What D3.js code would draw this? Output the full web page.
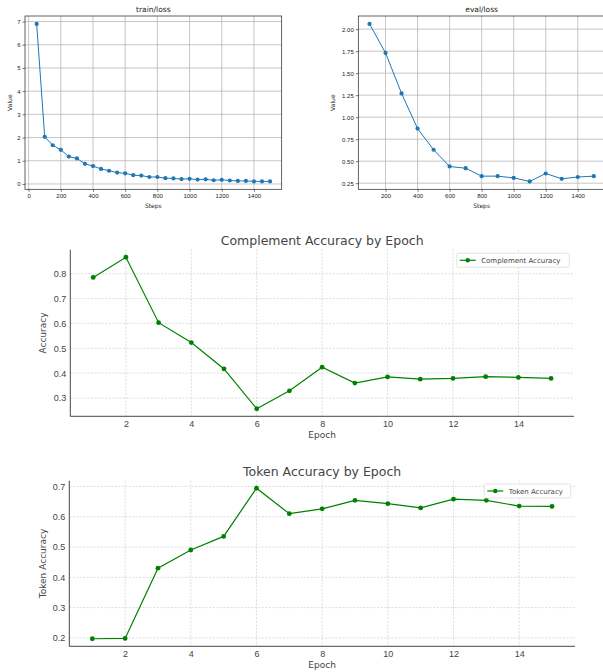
<!DOCTYPE html>
<html>
<head>
<meta charset="UTF-8">
<script src="https://cdnjs.cloudflare.com/ajax/libs/d3/7.8.5/d3.min.js"></script>
<title>training curves</title>
<style>
  body { margin: 0; background: #fff; }
  svg { display: block; font-family: "DejaVu Sans", sans-serif; }
</style>
</head>
<body>
<div id="chart"></div>
<script>
// train/loss
const trainSteps = [50, 100, 150, 200, 250, 300, 350, 400, 450, 500, 550, 600, 650, 700, 750,
  800, 850, 900, 950, 1000, 1050, 1100, 1150, 1200, 1250, 1300, 1350, 1400, 1450, 1500]
const trainLoss = [6.9, 2.03, 1.67, 1.47, 1.18, 1.1, 0.87, 0.77, 0.65, 0.57, 0.49, 0.46, 0.38, 0.36, 0.3,
  0.3, 0.25, 0.24, 0.21, 0.22, 0.19, 0.2, 0.16, 0.18, 0.15, 0.13, 0.13, 0.11, 0.11, 0.11]
const trainXTicks = [0, 200, 400, 600, 800, 1000, 1200, 1400]
const trainYTicks = [0, 1, 2, 3, 4, 5, 6, 7]

// eval/loss
const evalSteps = [100, 200, 300, 400, 500, 600, 700, 800, 900, 1000, 1100, 1200, 1300, 1400, 1500]
const evalLoss = [2.06, 1.73, 1.27, 0.87, 0.63, 0.44, 0.42, 0.33, 0.33, 0.31, 0.27, 0.36, 0.3, 0.32, 0.33]
const evalXTicks = [200, 400, 600, 800, 1000, 1200, 1400]
const evalYTicks = [0.25, 0.5, 0.75, 1.0, 1.25, 1.5, 1.75, 2.0]

// accuracy by epoch
const epochs = [1, 2, 3, 4, 5, 6, 7, 8, 9, 10, 11, 12, 13, 14, 15]
const complementAcc = [0.785, 0.866, 0.603, 0.523, 0.417, 0.257, 0.329, 0.424, 0.36, 0.385, 0.376, 0.379, 0.386, 0.383, 0.379]
const tokenAcc = [0.197, 0.198, 0.43, 0.49, 0.535, 0.694, 0.61, 0.626, 0.654, 0.643, 0.629, 0.658, 0.654, 0.635, 0.634]
const epochTicks = [2, 4, 6, 8, 10, 12, 14]
const complementYTicks = [0.3, 0.4, 0.5, 0.6, 0.7, 0.8]
const tokenYTicks = [0.2, 0.3, 0.4, 0.5, 0.6, 0.7]

const W = 603, H = 672
const svg = d3.select('#chart').append('svg').attr('width', W).attr('height', H)

// matplotlib style 5% margins
function padded(vals) {
  const [a, b] = d3.extent(vals)
  const m = (b - a) * 0.05
  return [a - m, b + m]
}

// small loss panels (default matplotlib look)
function lossPanel(o) {
  const x = d3.scaleLinear().domain(padded(o.xs)).range([o.x0, o.x1])
  const y = d3.scaleLinear().domain(padded(o.ys)).range([o.y1, o.y0])
  const g = svg.append('g')

  g.selectAll('.vg').data(o.xTicks).join('line')
    .attr('x1', d => x(d)).attr('x2', d => x(d)).attr('y1', o.y0).attr('y2', o.y1)
    .attr('stroke', '#b8b8b8').attr('stroke-width', 0.8)
  g.selectAll('.hg').data(o.yTicks).join('line')
    .attr('y1', d => y(d)).attr('y2', d => y(d)).attr('x1', o.x0).attr('x2', o.x1)
    .attr('stroke', '#b8b8b8').attr('stroke-width', 0.8)

  const xa = g.append('g').attr('transform', `translate(0,${o.y1})`)
    .call(d3.axisBottom(x).tickValues(o.xTicks).tickSize(2.5).tickPadding(1.5).tickFormat(d3.format('d')))
  const ya = g.append('g').attr('transform', `translate(${o.x0},0)`)
    .call(d3.axisLeft(y).tickValues(o.yTicks).tickSize(2.5).tickPadding(2).tickFormat(o.yFmt))
  ;[xa, ya].forEach(a => {
    a.select('.domain').remove()
    a.selectAll('text').attr('font-size', 6).attr('fill', '#222')
    a.selectAll('line').attr('stroke', '#222').attr('stroke-width', 0.6)
  })

  g.append('rect').attr('x', o.x0).attr('y', o.y0)
    .attr('width', o.x1 - o.x0).attr('height', o.y1 - o.y0)
    .attr('fill', 'none').attr('stroke', '#222').attr('stroke-width', 0.7)

  const line = d3.line().x((d, i) => x(o.xs[i])).y(d => y(d))
  g.append('path').datum(o.ys).attr('d', line)
    .attr('fill', 'none').attr('stroke', '#1f77b4').attr('stroke-width', 1)
  g.selectAll('.pt').data(o.ys).join('circle')
    .attr('cx', (d, i) => x(o.xs[i])).attr('cy', d => y(d)).attr('r', 2.1)
    .attr('fill', '#1f77b4')

  const cx = (o.x0 + o.x1) / 2
  g.append('text').attr('x', cx).attr('y', 12).attr('text-anchor', 'middle')
    .attr('font-size', 7.5).attr('fill', '#222').text(o.title)
  g.append('text').attr('x', cx).attr('y', 207.5).attr('text-anchor', 'middle')
    .attr('font-size', 6).attr('fill', '#222').text('Steps')
  g.append('text').attr('transform', `translate(${o.labX},${(o.y0 + o.y1) / 2}) rotate(-90)`)
    .attr('text-anchor', 'middle').attr('font-size', 6).attr('fill', '#222').text('Value')
}

lossPanel({ xs: trainSteps, ys: trainLoss, xTicks: trainXTicks, yTicks: trainYTicks,
  yFmt: d3.format('d'), x0: 25, x1: 281.7, y0: 16, y1: 189.3, labX: 12, title: 'train/loss' })
lossPanel({ xs: evalSteps, ys: evalLoss, xTicks: evalXTicks, yTicks: evalYTicks,
  yFmt: d3.format('.2f'), x0: 358.3, x1: 605, y0: 16, y1: 189.3, labX: 335, title: 'eval/loss' })

// larger accuracy panels (green, dashed grid, open top/right)
function accPanel(o) {
  const x = d3.scaleLinear().domain(padded(epochs)).range([o.x0, o.x1])
  const y = d3.scaleLinear().domain(padded(o.ys)).range([o.y1, o.y0])
  const g = svg.append('g')

  g.selectAll('.vg').data(epochTicks).join('line')
    .attr('x1', d => x(d)).attr('x2', d => x(d)).attr('y1', o.y0).attr('y2', o.y1)
    .attr('stroke', '#cfcfcf').attr('stroke-width', 0.7).attr('stroke-dasharray', '2,1.5')
  g.selectAll('.hg').data(o.yTicks).join('line')
    .attr('y1', d => y(d)).attr('y2', d => y(d)).attr('x1', o.x0).attr('x2', o.x1)
    .attr('stroke', '#cfcfcf').attr('stroke-width', 0.7).attr('stroke-dasharray', '2,1.5')

  const xa = g.append('g').attr('transform', `translate(0,${o.y1})`)
    .call(d3.axisBottom(x).tickValues(epochTicks).tickSize(0).tickPadding(4))
  const ya = g.append('g').attr('transform', `translate(${o.x0},0)`)
    .call(d3.axisLeft(y).tickValues(o.yTicks).tickSize(0).tickPadding(4).tickFormat(d3.format('.1f')))
  ;[xa, ya].forEach(a => {
    a.select('.domain').attr('stroke', '#333').attr('stroke-width', 0.9)
    a.selectAll('text').attr('font-size', 9).attr('fill', '#444')
  })
  xa.select('.domain').attr('d', `M${o.x0},0H${o.x1}`)
  ya.select('.domain').attr('d', `M0,${o.y0}V${o.y1}`)

  const line = d3.line().x((d, i) => x(epochs[i])).y(d => y(d))
  g.append('path').datum(o.ys).attr('d', line)
    .attr('fill', 'none').attr('stroke', 'green').attr('stroke-width', 1.2)
  g.selectAll('.pt').data(o.ys).join('circle')
    .attr('cx', (d, i) => x(epochs[i])).attr('cy', d => y(d)).attr('r', 2.4)
    .attr('fill', 'green')

  const cx = (o.x0 + o.x1) / 2
  g.append('text').attr('x', cx).attr('y', o.y0 - 5).attr('text-anchor', 'middle')
    .attr('font-size', 12.5).attr('fill', '#444').text(o.title)
  g.append('text').attr('x', cx).attr('y', o.y1 + 22).attr('text-anchor', 'middle')
    .attr('font-size', 9).attr('fill', '#444').text('Epoch')
  g.append('text').attr('transform', `translate(46,${(o.y0 + o.y1) / 2}) rotate(-90)`)
    .attr('text-anchor', 'middle').attr('font-size', 9).attr('fill', '#444').text(o.yLabel)

  // legend
  const lg = g.append('g').attr('transform', `translate(${o.legX},${o.legY})`)
  lg.append('rect').attr('width', o.legW).attr('height', 14).attr('rx', 1.5)
    .attr('fill', '#fff').attr('stroke', '#d8d8d8').attr('stroke-width', 0.7)
  lg.append('line').attr('x1', 3).attr('x2', 19).attr('y1', 7).attr('y2', 7)
    .attr('stroke', 'green').attr('stroke-width', 1.2)
  lg.append('circle').attr('cx', 11).attr('cy', 7).attr('r', 2.2).attr('fill', 'green')
  lg.append('text').attr('x', 24.5).attr('y', 9.5).attr('font-size', 7)
    .attr('fill', '#444').text(o.legend)
}

accPanel({ ys: complementAcc, yTicks: complementYTicks, x0: 70.3, x1: 574, y0: 249.7, y1: 416.3,
  title: 'Complement Accuracy by Epoch', yLabel: 'Accuracy', legend: 'Complement Accuracy',
  legX: 456.7, legY: 253.3, legW: 112.5 })
accPanel({ ys: tokenAcc, yTicks: tokenYTicks, x0: 69.3, x1: 575, y0: 480.7, y1: 646.3,
  title: 'Token Accuracy by Epoch', yLabel: 'Token Accuracy', legend: 'Token Accuracy',
  legX: 484.3, legY: 484, legW: 86.5 })
</script>
</body>
</html>
